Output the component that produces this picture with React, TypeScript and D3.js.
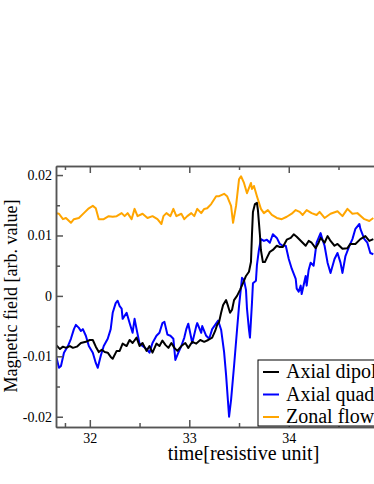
import { useEffect, useRef } from "react";
import * as d3 from "d3";

// [time, value]
const axialDipole: [number, number][] = [
  [31.66, -0.0081], [31.7, -0.0088], [31.73, -0.0084], [31.76, -0.0086], [31.8, -0.0083],
  [31.83, -0.0086], [31.87, -0.0084], [31.91, -0.0078], [31.96, -0.0076], [32.0, -0.0073],
  [32.03, -0.0073], [32.06, -0.0084], [32.09, -0.0093], [32.12, -0.0089], [32.15, -0.0093],
  [32.18, -0.0094], [32.21, -0.0101], [32.23, -0.0104], [32.27, -0.0091], [32.3, -0.0091],
  [32.33, -0.0079], [32.37, -0.0083], [32.4, -0.0073], [32.43, -0.0078], [32.47, -0.0069],
  [32.5, -0.0083], [32.53, -0.0078], [32.57, -0.0091], [32.6, -0.0083], [32.63, -0.0094],
  [32.67, -0.0079], [32.7, -0.0083], [32.73, -0.0074], [32.76, -0.0081], [32.79, -0.0086],
  [32.82, -0.0078], [32.85, -0.0086], [32.88, -0.0091], [32.92, -0.0083], [32.96, -0.0078],
  [32.99, -0.0086], [33.03, -0.0076], [33.07, -0.0079], [33.11, -0.0073], [33.15, -0.0076],
  [33.19, -0.0073], [33.23, -0.0069], [33.26, -0.0058], [33.28, -0.0048], [33.3, -0.0043],
  [33.32, -0.0028], [33.34, -0.0015], [33.37, -0.0007], [33.39, -0.0017], [33.41, -0.0028],
  [33.43, -0.0023], [33.45, -0.0007], [33.48, 0.0], [33.51, 0.001], [33.54, 0.0021],
  [33.57, 0.0033], [33.6, 0.004], [33.62, 0.0056], [33.63, 0.0101], [33.64, 0.0139],
  [33.66, 0.0152], [33.68, 0.0154], [33.69, 0.0142], [33.71, 0.0101], [33.72, 0.0076],
  [33.74, 0.0056], [33.76, 0.0056], [33.78, 0.0063], [33.81, 0.0073], [33.84, 0.0076],
  [33.88, 0.0083], [33.91, 0.0081], [33.94, 0.0081], [33.98, 0.0093], [34.02, 0.0096],
  [34.05, 0.0102], [34.08, 0.0098], [34.11, 0.0093], [34.14, 0.0088], [34.17, 0.0083],
  [34.2, 0.0091], [34.23, 0.0088], [34.27, 0.0079], [34.3, 0.0088], [34.32, 0.0096],
  [34.36, 0.0088], [34.39, 0.0099], [34.42, 0.0091], [34.46, 0.0083], [34.49, 0.0086],
  [34.54, 0.0078], [34.59, 0.0079], [34.62, 0.0086], [34.67, 0.0086], [34.72, 0.0094],
  [34.77, 0.0099], [34.81, 0.0091], [34.85, 0.0094],
];

const axialQuadrupole: [number, number][] = [
  [31.66, -0.0099], [31.69, -0.0119], [31.71, -0.0116], [31.74, -0.0094], [31.78, -0.0083],
  [31.81, -0.0071], [31.84, -0.0055], [31.86, -0.0048], [31.89, -0.0053], [31.91, -0.0058],
  [31.93, -0.0055], [31.96, -0.0066], [31.99, -0.0083], [32.03, -0.0094], [32.06, -0.0111],
  [32.08, -0.0119], [32.11, -0.0099], [32.14, -0.0083], [32.18, -0.0071], [32.21, -0.0055],
  [32.23, -0.0028], [32.26, -0.0012], [32.28, -0.0008], [32.3, -0.0017], [32.32, -0.0021],
  [32.33, -0.0038], [32.37, -0.0028], [32.4, -0.0045], [32.43, -0.0061], [32.45, -0.0038],
  [32.47, -0.0055], [32.5, -0.0079], [32.53, -0.0083], [32.57, -0.0088], [32.6, -0.0094],
  [32.63, -0.0078], [32.67, -0.0066], [32.7, -0.0061], [32.73, -0.0045], [32.75, -0.0043],
  [32.78, -0.0064], [32.81, -0.0066], [32.84, -0.0071], [32.86, -0.0106], [32.89, -0.0094],
  [32.92, -0.0083], [32.95, -0.0069], [32.97, -0.0055], [32.99, -0.0046], [33.03, -0.0078],
  [33.07, -0.005], [33.08, -0.0045], [33.12, -0.0061], [33.13, -0.005], [33.17, -0.0066],
  [33.2, -0.0071], [33.23, -0.0055], [33.26, -0.0048], [33.29, -0.0041], [33.32, -0.0056],
  [33.35, -0.0093], [33.37, -0.0131], [33.4, -0.02], [33.42, -0.0172], [33.45, -0.0116],
  [33.48, -0.0056], [33.5, -0.0017], [33.53, 0.003], [33.55, 0.0026], [33.57, 0.001],
  [33.58, -0.0021], [33.6, -0.0056], [33.61, -0.0069], [33.63, -0.0012], [33.64, 0.0021],
  [33.67, 0.0025], [33.68, 0.0051], [33.7, 0.0076], [33.72, 0.0094], [33.75, 0.0091],
  [33.78, 0.0093], [33.81, 0.0088], [33.84, 0.0102], [33.88, 0.0096], [33.91, 0.0086],
  [33.94, 0.0083], [33.97, 0.0083], [34.0, 0.0061], [34.03, 0.0045], [34.07, 0.0028],
  [34.08, 0.0012], [34.1, 0.0007], [34.12, 0.0017], [34.13, 0.0003], [34.15, 0.0018],
  [34.17, 0.0033], [34.18, 0.0017], [34.2, 0.0043], [34.22, 0.0055], [34.25, 0.005],
  [34.28, 0.0088], [34.3, 0.0096], [34.32, 0.0104], [34.34, 0.0093], [34.36, 0.0083],
  [34.39, 0.0055], [34.42, 0.0038], [34.46, 0.0061], [34.49, 0.0071], [34.52, 0.0055],
  [34.54, 0.0038], [34.57, 0.0066], [34.61, 0.0083], [34.64, 0.0094], [34.67, 0.0111],
  [34.71, 0.0119], [34.72, 0.0111], [34.76, 0.0094], [34.79, 0.0088], [34.82, 0.0071],
  [34.85, 0.0069],
];

const zonalFlow: [number, number][] = [
  [31.66, 0.0137], [31.69, 0.0136], [31.73, 0.0127], [31.76, 0.0129], [31.81, 0.0121],
  [31.84, 0.0127], [31.89, 0.0129], [31.94, 0.0137], [31.99, 0.0145], [32.03, 0.0149],
  [32.06, 0.0145], [32.09, 0.0127], [32.14, 0.0127], [32.19, 0.0132], [32.23, 0.0131],
  [32.27, 0.0132], [32.32, 0.0137], [32.35, 0.0132], [32.38, 0.0137], [32.42, 0.0127],
  [32.45, 0.0144], [32.48, 0.0132], [32.53, 0.0136], [32.58, 0.0129], [32.63, 0.0132],
  [32.68, 0.0127], [32.72, 0.0119], [32.74, 0.0132], [32.77, 0.0137], [32.81, 0.0132],
  [32.84, 0.0144], [32.87, 0.0132], [32.92, 0.0136], [32.95, 0.0127], [32.98, 0.0132],
  [33.02, 0.0137], [33.05, 0.0132], [33.08, 0.0144], [33.12, 0.0137], [33.15, 0.0144],
  [33.18, 0.0145], [33.22, 0.0152], [33.27, 0.0165], [33.3, 0.0165], [33.35, 0.0169],
  [33.38, 0.0165], [33.42, 0.0149], [33.44, 0.0121], [33.47, 0.0149], [33.5, 0.0193],
  [33.52, 0.0198], [33.55, 0.0187], [33.58, 0.017], [33.62, 0.0187], [33.63, 0.0177],
  [33.65, 0.0182], [33.68, 0.0165], [33.72, 0.0144], [33.75, 0.0137], [33.79, 0.0142],
  [33.83, 0.0134], [33.88, 0.0129], [33.93, 0.0127], [33.98, 0.0131], [34.03, 0.0136],
  [34.07, 0.0142], [34.11, 0.0139], [34.14, 0.0134], [34.18, 0.0142], [34.23, 0.0137],
  [34.28, 0.0134], [34.31, 0.0139], [34.36, 0.0129], [34.42, 0.0136], [34.49, 0.014],
  [34.54, 0.0132], [34.59, 0.0144], [34.64, 0.0136], [34.69, 0.0137], [34.76, 0.0127],
  [34.81, 0.0124], [34.85, 0.0129],
];

const seriesNames = ["Axial dipole", "Axial quadrupole", "Zonal flow"];
const seriesColors = ["#000000", "#0000ff", "#ffa500"];

const xMajorTicks = [32, 33, 34];
const xMinorTicks = [31.75, 32.5, 33.5, 34.5];
const yMajorTicks = [-0.02, -0.01, 0, 0.01, 0.02];
const yMinorTicks = [-0.015, -0.005, 0.005, 0.015];

const W = 374;
const H = 484;
const font = "'Liberation Serif', 'Times New Roman', serif";

function App() {
  const svgRef = useRef<SVGSVGElement>(null);

  useEffect(() => {
    const svg = d3.select(svgRef.current);
    svg.selectAll("*").remove();

    const left = 56, right = 431, top = 166, bottom = 427;

    const x = d3.scaleLinear().domain([31.66, 35.43]).range([left, right]);
    const y = d3.scaleLinear().domain([-0.0217, 0.0215]).range([bottom, top]);

    svg.append("defs").append("clipPath").attr("id", "plotClip")
      .append("rect").attr("x", left).attr("y", top)
      .attr("width", right - left).attr("height", bottom - top);

    // series lines
    const line = d3.line<[number, number]>().x((d) => x(d[0])).y((d) => y(d[1]));
    const all = [axialDipole, axialQuadrupole, zonalFlow];
    const g = svg.append("g").attr("clip-path", "url(#plotClip)");
    // orange first, then blue, black on top
    [2, 1, 0].forEach((i) => {
      g.append("path")
        .datum(all[i])
        .attr("fill", "none")
        .attr("stroke", seriesColors[i])
        .attr("stroke-width", 2)
        .attr("stroke-linejoin", "round")
        .attr("d", line);
    });

    const frame = "#555";
    const styleAxis = (sel: any) => {
      sel.attr("font-family", font).attr("font-size", 14);
      sel.selectAll("path").attr("stroke", frame).attr("stroke-width", 1.5);
      sel.selectAll("line").attr("stroke", frame).attr("stroke-width", 1.5);
      sel.selectAll("text").attr("font-family", font).attr("font-size", 14).attr("fill", "#000");
    };

    const yFmt = (d: any) => (d === 0 ? "0" : d3.format(".2f")(d).replace("\u2212", "-"));

    // left axis
    svg.append("g").attr("transform", `translate(${left},0)`)
      .call(d3.axisLeft(y).tickValues(yMinorTicks).tickSizeInner(-4).tickSizeOuter(0).tickFormat(() => ""))
      .call(styleAxis);
    svg.append("g").attr("transform", `translate(${left},0)`)
      .call(d3.axisLeft(y).tickValues(yMajorTicks).tickSizeInner(-7).tickSizeOuter(0).tickPadding(4)
        .tickFormat(yFmt))
      .call(styleAxis);

    // bottom axis
    svg.append("g").attr("transform", `translate(0,${bottom})`)
      .call(d3.axisBottom(x).tickValues(xMinorTicks).tickSizeInner(-4).tickSizeOuter(0).tickFormat(() => ""))
      .call(styleAxis);
    svg.append("g").attr("transform", `translate(0,${bottom})`)
      .call(d3.axisBottom(x).tickValues(xMajorTicks).tickSizeInner(-7).tickSizeOuter(0).tickPadding(6)
        .tickFormat(d3.format("d")))
      .call(styleAxis);

    // top axis
    svg.append("g").attr("transform", `translate(0,${top})`)
      .call(d3.axisTop(x).tickValues(xMinorTicks).tickSizeInner(-4).tickSizeOuter(0).tickFormat(() => ""))
      .call(styleAxis);
    svg.append("g").attr("transform", `translate(0,${top})`)
      .call(d3.axisTop(x).tickValues(xMajorTicks).tickSizeInner(-7).tickSizeOuter(0).tickFormat(() => ""))
      .call(styleAxis);

    // axis titles
    svg.append("text")
      .attr("x", 243.5).attr("y", 460)
      .attr("text-anchor", "middle")
      .attr("font-family", font).attr("font-size", 20)
      .text("time[resistive unit]");
    svg.append("text")
      .attr("transform", `translate(17,296) rotate(-90)`)
      .attr("text-anchor", "middle")
      .attr("font-family", font).attr("font-size", 18)
      .text("Magnetic field [arb. value]");

    // legend
    const lg = svg.append("g").attr("transform", "translate(258,360)");
    lg.append("rect").attr("width", 160).attr("height", 66)
      .attr("fill", "#fff").attr("stroke", "#000").attr("stroke-width", 1);
    seriesNames.forEach((name, i) => {
      const cy = 12 + i * 22.5;
      lg.append("line").attr("x1", 5).attr("x2", 21).attr("y1", cy).attr("y2", cy)
        .attr("stroke", seriesColors[i]).attr("stroke-width", 2);
      lg.append("text").attr("x", 28).attr("y", cy + 6)
        .attr("font-family", font).attr("font-size", 20)
        .text(name);
    });
  }, []);

  return (
    <svg
      ref={svgRef}
      width={W}
      height={H}
      style={{ position: "absolute", left: 0, top: 0, background: "#fff" }}
    />
  );
}

export default App;
